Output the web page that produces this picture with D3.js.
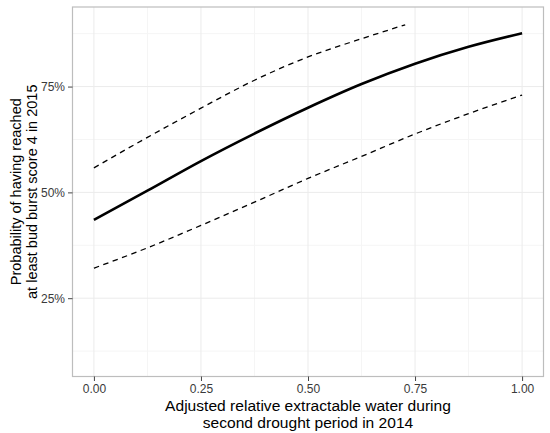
<!DOCTYPE html>
<html lang="en">
<head>
  <meta charset="utf-8">
  <title>Bud burst probability</title>
  <style>
    body { margin: 0; background: #fff; }
    svg { display: block; font-family: 'Liberation Sans', Arial, sans-serif; }
  </style>
</head>
<body>
  <div id="chart"></div>
  <script src="https://d3js.org/d3.v7.min.js"></script>
  <script>
    // data
    var xTicks = [0, 0.25, 0.5, 0.75, 1];
    var yTicks = [0.25, 0.5, 0.75];
    var fitX = [0, 0.125, 0.25, 0.375, 0.5, 0.625, 0.75, 0.875, 1];
    var fitY = [0.435, 0.504, 0.574, 0.639, 0.700, 0.756, 0.804, 0.844, 0.876];
    var upperX = [0, 0.125, 0.25, 0.375, 0.5, 0.625, 0.727];
    var upperY = [0.558, 0.630, 0.699, 0.765, 0.820, 0.863, 0.896];
    var lowerX = [0, 0.125, 0.25, 0.375, 0.5, 0.625, 0.75, 0.875, 1];
    var lowerY = [0.321, 0.369, 0.422, 0.477, 0.533, 0.585, 0.638, 0.686, 0.730];

    var width = 550, height = 433;
    var margin = { top: 7, right: 6.5, bottom: 56.5, left: 72.5 };
    var w = width - margin.left - margin.right;
    var h = height - margin.top - margin.bottom;

    var svg = d3.select("#chart").append("svg")
      .attr("width", width)
      .attr("height", height);

    var g = svg.append("g")
      .attr("transform", "translate(" + margin.left + "," + margin.top + ")");

    // ggplot style 5% expansion
    var xScale = d3.scaleLinear().domain([-0.05, 1.05]).range([0, w]);
    var yScale = d3.scaleLinear().domain([0.065, 0.938]).range([h, 0]);

    // minor grid
    var xMinor = [0.125, 0.375, 0.625, 0.875];
    var yMinor = [0.125, 0.375, 0.625, 0.875];
    g.selectAll(".xminor").data(xMinor).enter().append("line")
      .attr("x1", d => xScale(d)).attr("x2", d => xScale(d))
      .attr("y1", 0).attr("y2", h)
      .attr("stroke", "#f5f5f5").attr("stroke-width", 1);
    g.selectAll(".yminor").data(yMinor).enter().append("line")
      .attr("y1", d => yScale(d)).attr("y2", d => yScale(d))
      .attr("x1", 0).attr("x2", w)
      .attr("stroke", "#f5f5f5").attr("stroke-width", 1);

    // major grid
    g.selectAll(".xmajor").data(xTicks).enter().append("line")
      .attr("x1", d => xScale(d)).attr("x2", d => xScale(d))
      .attr("y1", 0).attr("y2", h)
      .attr("stroke", "#ebebeb").attr("stroke-width", 1);
    g.selectAll(".ymajor").data(yTicks).enter().append("line")
      .attr("y1", d => yScale(d)).attr("y2", d => yScale(d))
      .attr("x1", 0).attr("x2", w)
      .attr("stroke", "#ebebeb").attr("stroke-width", 1);

    // lines
    var line = d3.line()
      .x(d => xScale(d[0]))
      .y(d => yScale(d[1]))
      .curve(d3.curveMonotoneX);

    g.append("path")
      .attr("d", line(d3.zip(upperX, upperY)))
      .attr("fill", "none").attr("stroke", "#000")
      .attr("stroke-width", 1.3).attr("stroke-dasharray", "5.5,4.5");
    g.append("path")
      .attr("d", line(d3.zip(lowerX, lowerY)))
      .attr("fill", "none").attr("stroke", "#000")
      .attr("stroke-width", 1.3).attr("stroke-dasharray", "5.5,4.5");
    g.append("path")
      .attr("d", line(d3.zip(fitX, fitY)))
      .attr("fill", "none").attr("stroke", "#000")
      .attr("stroke-width", 2.6);

    // panel border
    g.append("rect")
      .attr("width", w).attr("height", h)
      .attr("fill", "none").attr("stroke", "#bdbdbd").attr("stroke-width", 1.2);

    // axes
    var xAxis = d3.axisBottom(xScale).tickValues(xTicks)
      .tickFormat(d3.format(".2f")).tickSize(4.5).tickPadding(3);
    var gx = g.append("g")
      .attr("transform", "translate(0," + h + ")")
      .call(xAxis);
    var yAxis = d3.axisLeft(yScale).tickValues(yTicks)
      .tickFormat(d3.format(".0%")).tickSize(4.5).tickPadding(3);
    var gy = g.append("g").call(yAxis);

    [gx, gy].forEach(function (a) {
      a.select(".domain").remove();
      a.attr("font-size", null);
      a.selectAll(".tick line").attr("stroke", "#444").attr("stroke-width", 1);
      a.selectAll(".tick text")
        .attr("fill", "#3a3a3a")
        .style("font-size", "12px")
        .style("font-family", "'Liberation Sans', Arial, sans-serif");
    });

    // axis titles (reference is a little wider than tall, so stretch x title)
    var cx = margin.left + w / 2;
    var xTitle = svg.append("text")
      .attr("transform", "translate(" + cx + ",411) scale(1.075,1)")
      .attr("text-anchor", "middle")
      .style("font-size", "14.5px")
      .attr("fill", "#000");
    xTitle.append("tspan").attr("x", 0).attr("dy", 0)
      .text("Adjusted relative extractable water during");
    xTitle.append("tspan").attr("x", 0).attr("dy", 17)
      .text("second drought period in 2014");

    var yTitle = svg.append("text")
      .attr("transform", "translate(21," + (margin.top + h / 2) + ") rotate(-90)")
      .attr("text-anchor", "middle")
      .style("font-size", "14.5px")
      .attr("fill", "#000");
    yTitle.append("tspan").attr("x", 0).attr("dy", 0)
      .text("Probability of having reached");
    yTitle.append("tspan").attr("x", 0).attr("dy", 15.5)
      .text("at least bud burst score 4 in 2015");
  </script>
</body>
</html>
